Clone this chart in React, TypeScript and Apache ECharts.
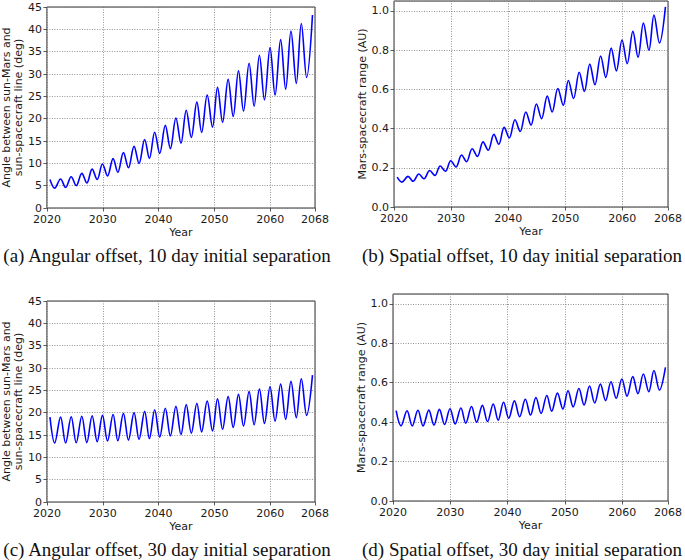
import React, { useEffect, useRef } from "react";
import * as echarts from "echarts";

// Times (years) of the start point, each trough/peak, and the end point
const extremaYears = [
  2020.55, 2021.4, 2022.45, 2023.35, 2024.35, 2025.25, 2026.25, 2027.15, 2028.1, 2029.0,
  2029.95, 2030.85, 2031.85, 2032.7, 2033.7, 2034.6, 2035.6, 2036.5, 2037.5, 2038.35,
  2039.3, 2040.2, 2041.2, 2042.1, 2043.1, 2044.0, 2044.95, 2045.85, 2046.85, 2047.7,
  2048.7, 2049.65, 2050.55, 2051.45, 2052.45, 2053.35, 2054.3, 2055.2, 2056.2, 2057.1,
  2058.05, 2058.95, 2059.95, 2060.85, 2061.85, 2062.75, 2063.7, 2064.65, 2065.55, 2066.5,
  2067.55,
];

// (a) angle (deg), 10 day separation
const angle10 = [
  6.4, 4.45, 6.5, 4.6, 7.0, 5.0, 7.75, 5.6, 8.7, 6.4, 9.85, 7.2, 11.05, 8.0, 12.4, 9.0,
  13.8, 10.0, 15.35, 11.1, 16.95, 12.2, 18.5, 13.3, 20.15, 14.5, 21.9, 15.8, 23.7, 16.9,
  25.3, 18.1, 27.0, 19.2, 28.8, 20.5, 30.7, 21.7, 32.4, 22.8, 34.2, 24.2, 35.9, 25.3,
  37.7, 26.6, 39.6, 27.9, 41.3, 29.2, 43.2,
];

// (b) range (AU), 10 day separation
const range10 = [
  0.152, 0.127, 0.156, 0.131, 0.168, 0.144, 0.186, 0.161, 0.209, 0.182, 0.236, 0.204,
  0.265, 0.231, 0.297, 0.258, 0.332, 0.289, 0.37, 0.32, 0.406, 0.352, 0.445, 0.385,
  0.484, 0.417, 0.525, 0.45, 0.565, 0.484, 0.604, 0.518, 0.645, 0.553, 0.687, 0.589,
  0.728, 0.623, 0.77, 0.66, 0.81, 0.694, 0.851, 0.731, 0.895, 0.763, 0.937, 0.799,
  0.978, 0.836, 1.02,
];

// (c) angle (deg), 30 day separation
const angle30 = [
  19.0, 13.2, 19.0, 13.2, 19.1, 13.25, 19.2, 13.3, 19.3, 13.5, 19.4, 13.65, 19.6, 13.7,
  19.85, 13.85, 20.0, 14.0, 20.3, 14.2, 20.65, 14.5, 21.0, 14.8, 21.4, 15.1, 21.8, 15.4,
  22.1, 15.7, 22.6, 15.9, 23.1, 16.3, 23.6, 16.7, 24.1, 17.0, 24.7, 17.3, 25.3, 17.6,
  25.8, 18.1, 26.4, 18.5, 27.0, 18.9, 27.6, 19.4, 28.4,
];

// (d) range (AU), 30 day separation
const range30 = [
  0.458, 0.381, 0.458, 0.381, 0.46, 0.381, 0.461, 0.385, 0.465, 0.388, 0.468, 0.391,
  0.472, 0.395, 0.479, 0.4, 0.485, 0.403, 0.492, 0.41, 0.501, 0.42, 0.508, 0.427, 0.516,
  0.436, 0.525, 0.444, 0.535, 0.456, 0.547, 0.467, 0.559, 0.477, 0.571, 0.487, 0.583,
  0.497, 0.593, 0.509, 0.605, 0.521, 0.619, 0.532, 0.631, 0.544, 0.644, 0.554, 0.662,
  0.563, 0.678,
];

const captions = [
  "(a) Angular offset, 10 day initial separation",
  "(b) Spatial offset, 10 day initial separation",
  "(c) Angular offset, 30 day initial separation",
  "(d) Spatial offset, 30 day initial separation",
];
const angleName = "Angle between sun-Mars and\nsun-spacecraft line (deg)";
const rangeName = "Mars-spacecraft range (AU)";
const xName = "Year";

const SANS = "DejaVu Sans";
const TEXT = "#1a1a1a";

export default function App() {
  const ref = useRef<HTMLDivElement>(null);

  useEffect(() => {
    if (!ref.current) return;
    const chart = echarts.init(ref.current, undefined, { renderer: "svg" });

    const grids = [
      { left: 43, top: 7, width: 272, height: 201 },
      { left: 394, top: 1, width: 278, height: 206 },
      { left: 43, top: 301, width: 272, height: 201 },
      { left: 393, top: 294, width: 279, height: 207 },
    ].map((g) => ({
      ...g,
      show: true,
      borderColor: "#333",
      borderWidth: 1,
      backgroundColor: "transparent",
    }));

    const splitLine = {
      show: true,
      lineStyle: { color: "#777", type: [1, 1.5], width: 0.8 },
    };
    const axisTick = { show: true, length: 3.5, lineStyle: { color: "#333", width: 0.8 } };
    const labelStyle = { fontFamily: SANS, fontSize: 11, color: TEXT };

    const xAxis = [0, 1, 2, 3].map((i) => ({
      type: "value",
      gridIndex: i,
      min: 2020,
      max: 2068,
      interval: 10,
      name: xName,
      nameLocation: "middle",
      nameGap: 19,
      nameTextStyle: { ...labelStyle },
      axisLine: { show: false },
      axisTick,
      axisLabel: {
        ...labelStyle,
        margin: 6,
        showMaxLabel: true,
        showMinLabel: true,
        formatter: (v: number) => String(Math.round(v)),
      },
      splitLine,
    }));

    const isAngle = [true, false, true, false];
    const yAxis = [0, 1, 2, 3].map((i) =>
      isAngle[i]
        ? {
            type: "value",
            gridIndex: i,
            min: 0,
            max: 45,
            interval: 5,
            name: angleName,
            nameLocation: "middle",
            nameRotate: 90,
            nameGap: 20,
            nameTextStyle: { ...labelStyle, lineHeight: 11.5 },
            axisLine: { show: false },
            axisTick,
            axisLabel: { ...labelStyle, margin: 5 },
            splitLine,
          }
        : {
            type: "value",
            gridIndex: i,
            min: 0,
            max: 1.05,
            interval: 0.2,
            name: rangeName,
            nameLocation: "middle",
            nameRotate: 90,
            nameGap: 22,
            nameTextStyle: { ...labelStyle },
            axisLine: { show: false },
            axisTick,
            axisLabel: {
              ...labelStyle,
              margin: 5,
              showMaxLabel: false,
              formatter: (v: number) => v.toFixed(1),
            },
            splitLine,
          }
    );

    const allValues = [angle10, range10, angle30, range30];
    const series = allValues.map((vals, i) => ({
      type: "line",
      xAxisIndex: i,
      yAxisIndex: i,
      data: extremaYears.map((t, k) => [t, vals[k]]),
      smooth: 0.36,
      showSymbol: false,
      symbol: "none",
      lineStyle: { color: "#0000ff", width: 1.6 },
      z: 5,
    }));

    const capPos = [
      [167, 255],
      [522, 255],
      [167, 549],
      [522, 549],
    ];
    const graphic = captions.map((c, i) => ({
      type: "text",
      x: capPos[i][0],
      y: capPos[i][1],
      style: {
        text: c,
        fill: "#111",
        fontFamily: "Liberation Serif",
        fontSize: 19,
        align: "center",
        verticalAlign: "middle",
      },
    }));

    chart.setOption({
      animation: false,
      backgroundColor: "#ffffff",
      grid: grids,
      xAxis,
      yAxis,
      series,
      graphic,
    });

    return () => chart.dispose();
  }, []);

  return (
    <div
      ref={ref}
      style={{ position: "fixed", left: 0, top: 0, width: 685, height: 560, background: "#fff" }}
    />
  );
}
